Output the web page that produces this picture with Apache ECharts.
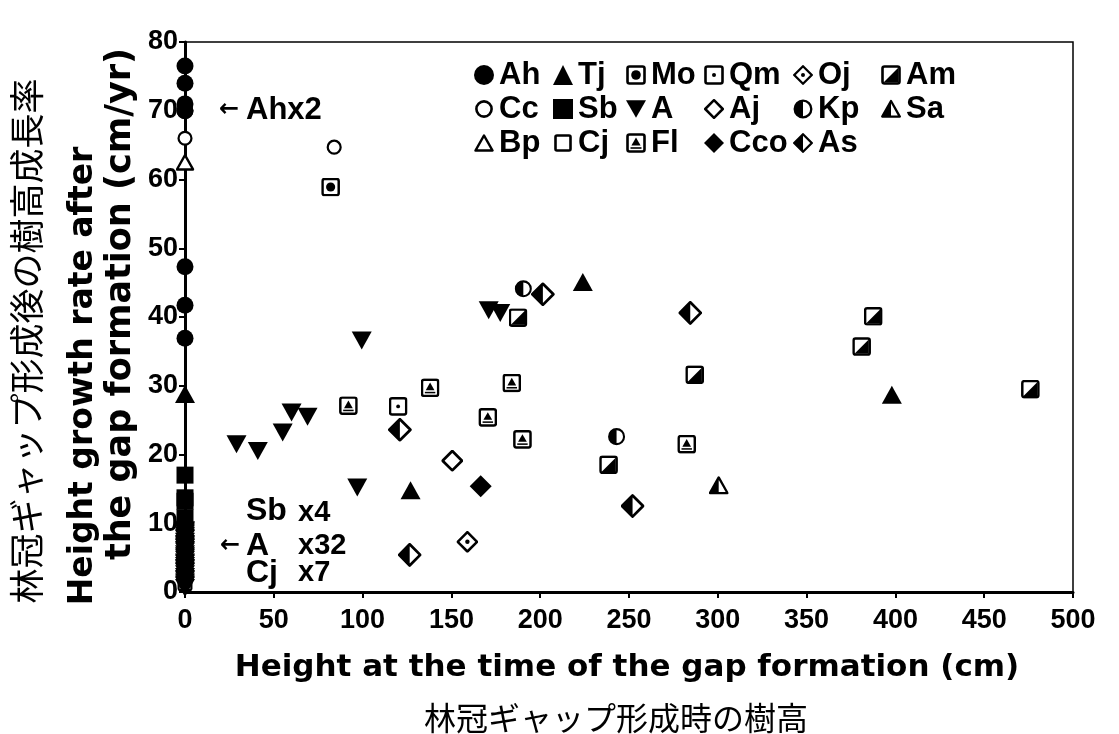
<!DOCTYPE html>
<html>
<head>
<meta charset="utf-8">
<script src="https://cdn.jsdelivr.net/npm/echarts@6/dist/echarts.min.js"></script>
<style>
html,body{margin:0;padding:0;background:#fff;}
#main{width:1119px;height:734px;}
</style>
</head>
<body>
<div id="main"></div>
<script>
// ---- tick values ----
const xTicks = [0, 50, 100, 150, 200, 250, 300, 350, 400, 450, 500];
const yTicks = [0, 10, 20, 30, 40, 50, 60, 70, 80];

// ---- data: [height at gap formation (cm), growth rate (cm/yr)] ----
const Ah  = [[0,76.5],[0,74.0],[0,71.0],[0,70.0],[0,70.0],[0,47.3],[0,41.7],[0,36.9]];
const Cc  = [[0,66.0],[84,64.7]];
const Bp  = [[0,62.5]];
const Tj  = [[0,28.8],[127,14.8],[224,45.1],[398,28.7]];
const Sb  = [[0,17.0],[0,13.7],[0,13.2],[0,10.8]];
const Cj  = [[0,1.2],[0,2.4],[0,3.6],[0,4.4],[0,5.7],[0,6.9],[0,8.1]];
const Mo  = [[82,58.9]];
const A   = [[29,21.5],[41,20.5],[55,23.2],[60,26.1],[69,25.5],[97,15.2],[99.5,36.6],[171,41.0],[177.5,40.6],
             [0,0.6],[0,0.9],[0,1.1],[0,1.4],[0,1.7],[0,1.9],[0,2.2],[0,2.6],[0,2.9],[0,3.1],[0,3.4],[0,3.8],
             [0,4.1],[0,4.3],[0,4.7],[0,5.0],[0,5.2],[0,5.5],[0,5.9],[0,6.1],[0,6.4],[0,6.8],[0,7.0],[0,7.3],
             [0,7.7],[0,7.9],[0,8.2],[0,8.5],[0,8.8],[0,9.0],[0,3.5],[0,6.6]];
const Fl  = [[92,27.1],[138,29.7],[170.5,25.4],[184,30.4],[190,22.2],[282.5,21.5]];
const Qm  = [[120,27.0]];
const Aj  = [[150.5,19.1]];
const Cco = [[166.5,15.4]];
const Oj  = [[159,7.3]];
const Kp  = [[190.5,44.1],[243,22.6]];
const As  = [[121,23.6],[126.5,5.4],[201.5,43.3],[252,12.5],[284.5,40.6]];
const Am  = [[187.5,39.9],[238.5,18.5],[287,31.6],[381,35.7],[387.5,40.1],[476,29.5]];
const Sa  = [[300.5,15.5]];

// ---- legend columns ----
const legendCols = [
  ['Ah','Cc','Bp'],
  ['Tj','Sb','Cj'],
  ['Mo','A','Fl'],
  ['Qm','Aj','Cco'],
  ['Oj','Kp','As'],
  ['Am','Sa']
];
const legendLeft = [469, 548, 621, 699, 788, 876];

function svgSym(inner){
  const s = '<svg xmlns="http://www.w3.org/2000/svg" width="60" height="60" viewBox="0 0 20 20">' + inner + '</svg>';
  return 'image://data:image/svg+xml;charset=utf-8,' + encodeURIComponent(s);
}
const sqFrame = '<rect x="1.5" y="1.5" width="17" height="17" rx="2" fill="#fff" stroke="#000" stroke-width="2.6"/>';
const dmFrame = '<polygon points="10,1.2 18.8,10 10,18.8 1.2,10" fill="#fff" stroke="#000" stroke-width="2.3" stroke-linejoin="round"/>';
const symbols = {
  Mo: svgSym(sqFrame + '<circle cx="10" cy="10" r="4.8" fill="#000"/>'),
  Qm: svgSym(sqFrame + '<circle cx="10" cy="10" r="2" fill="#000"/>'),
  Fl: svgSym(sqFrame + '<polygon points="10,4.5 14.6,12.6 5.4,12.6" fill="#000"/><rect x="4.5" y="14.2" width="11" height="1.6" fill="#000"/>'),
  Am: svgSym(sqFrame + '<polygon points="17.5,2.5 17.5,17.5 2.5,17.5" fill="#000"/>'),
  Oj: svgSym(dmFrame + '<circle cx="10" cy="10" r="2" fill="#000"/>'),
  As: svgSym(dmFrame + '<polygon points="10,1.2 10,18.8 1.2,10" fill="#000"/>'),
  Kp: svgSym('<circle cx="10" cy="10" r="8.3" fill="#fff" stroke="#000" stroke-width="2.3"/><path d="M10,1.7 A8.3,8.3 0 0 0 10,18.3 Z" fill="#000"/>'),
  Sa: svgSym('<polygon points="10,2 18.8,17.6 1.2,17.6" fill="#fff" stroke="#000" stroke-width="2.3" stroke-linejoin="round"/><polygon points="10,2 10,17.6 1.2,17.6" fill="#000"/>'),
  Bp: svgSym('<polygon points="10,2.5 18.5,17.5 1.5,17.5" fill="#fff" stroke="#000" stroke-width="2.5" stroke-linejoin="round"/>'),
  Cc: svgSym('<circle cx="10" cy="10" r="7.6" fill="#fff" stroke="#000" stroke-width="2.6"/>'),
  Cj: svgSym('<rect x="2.5" y="2.5" width="15" height="15" rx="1.5" fill="#fff" stroke="#000" stroke-width="2.6"/>'),
  Aj: svgSym('<polygon points="10,1.2 18.8,10 10,18.8 1.2,10" fill="#fff" stroke="#000" stroke-width="2.5" stroke-linejoin="round"/>'),
  Ah: 'circle',
  Tj: 'triangle',
  Sb: 'rect',
  A: 'path://M0,0 L22,0 L11,19 Z',
  Cco: 'diamond'
};
const sizes = {Ah:17, Cc:17, Bp:19, Tj:[20,18], Sb:17, Cj:17, Mo:19, A:[20,18], Fl:19, Qm:19,
               Aj:22, Cco:22, Oj:22, Kp:18, As:24, Am:19, Sa:20};
const dataMap = {Ah, Cc, Bp, Tj, Sb, Cj, Mo, A, Fl, Qm, Aj, Cco, Oj, Kp, As, Am, Sa};
const order = ['Cj','A','Sb','Ah','Cc','Bp','Tj','Mo','Fl','Qm','Aj','Cco','Oj','Kp','As','Am','Sa'];

const series = order.map(name => ({
  name: name,
  type: 'scatter',
  data: dataMap[name],
  symbol: symbols[name],
  symbolSize: sizes[name],
  itemStyle: {color: '#000', opacity: 1},
  emphasis: {disabled: true}
}));

const FONT = '"Liberation Sans", Arial, sans-serif';
const legends = legendCols.map((col, i) => ({
  data: col,
  orient: 'vertical',
  left: legendLeft[i],
  top: 53,
  itemWidth: 20,
  itemHeight: 20,
  itemGap: 0,
  selectedMode: false,
  textStyle: {fontFamily: FONT, fontWeight: 'bold', fontSize: 31, color: '#000', lineHeight: 34}
}));

const chart = echarts.init(document.getElementById('main'), null, {renderer: 'canvas'});
chart.setOption({
  backgroundColor: '#fff',
  animation: false,
  grid: {left: 185, right: 46, top: 42, bottom: 142, show: true, borderColor: '#000', borderWidth: 1.5, backgroundColor: 'transparent'},
  legend: legends,
  xAxis: {
    type: 'value', min: xTicks[0], max: xTicks[xTicks.length-1], interval: xTicks[1]-xTicks[0],
    splitLine: {show: false},
    axisLine: {show: true, onZero: false, lineStyle: {color: '#000', width: 3}},
    axisTick: {show: true, inside: false, length: 6, lineStyle: {color: '#000', width: 2}},
    axisLabel: {color: '#000', fontFamily: FONT, fontWeight: 'bold', fontSize: 27, margin: 15}
  },
  yAxis: {
    type: 'value', min: yTicks[0], max: yTicks[yTicks.length-1], interval: yTicks[1]-yTicks[0],
    splitLine: {show: false},
    axisLine: {show: true, onZero: false, lineStyle: {color: '#000', width: 3}},
    axisTick: {show: true, inside: false, length: 6, lineStyle: {color: '#000', width: 2}},
    axisLabel: {color: '#000', fontFamily: FONT, fontWeight: 'bold', fontSize: 27, margin: 7}
  },
  graphic: [
    {type: 'text', x: 627, y: 668, style: {text: 'Height at the time of the gap formation (cm)', font: 'bold 31px "DejaVu Sans", sans-serif', fill: '#000', align: 'center', verticalAlign: 'middle'}, z: 10},
    {type: 'text', x: 616, y: 718, style: {text: '林冠ギャップ形成時の樹高', font: '32px "Noto Sans CJK JP", sans-serif', fill: '#000', align: 'center', verticalAlign: 'middle'}, z: 10},
    {type: 'text', x: 83, y: 376, rotation: Math.PI/2, style: {text: 'Height growth rate after', font: 'bold 33px "DejaVu Sans", sans-serif', fill: '#000', align: 'center', verticalAlign: 'middle'}, z: 10},
    {type: 'text', x: 121, y: 304, rotation: Math.PI/2, style: {text: 'the gap formation (cm/yr)', font: 'bold 35px "DejaVu Sans", sans-serif', fill: '#000', align: 'center', verticalAlign: 'middle'}, z: 10},
    {type: 'text', x: 27, y: 341, rotation: Math.PI/2, style: {text: '林冠ギャップ形成後の樹高成長率', font: '35px "Noto Sans CJK JP", sans-serif', fill: '#000', align: 'center', verticalAlign: 'middle'}, z: 10},
    {type: 'text', x: 219, y: 110, style: {text: '←', font: 'bold 24px "DejaVu Sans", sans-serif', fill: '#000', verticalAlign: 'middle'}, z: 10},
    {type: 'text', x: 246, y: 110, style: {text: 'Ahx2', font: 'bold 31px "Liberation Sans", sans-serif', fill: '#000', verticalAlign: 'middle'}, z: 10},
    {type: 'text', x: 246, y: 511, style: {text: 'Sb', font: 'bold 32px "Liberation Sans", sans-serif', fill: '#000', verticalAlign: 'middle'}, z: 10},
    {type: 'text', x: 298, y: 513, style: {text: 'x4', font: 'bold 29px "Liberation Sans", sans-serif', fill: '#000', verticalAlign: 'middle'}, z: 10},
    {type: 'text', x: 220, y: 546, style: {text: '←', font: 'bold 24px "DejaVu Sans", sans-serif', fill: '#000', verticalAlign: 'middle'}, z: 10},
    {type: 'text', x: 246, y: 546, style: {text: 'A', font: 'bold 32px "Liberation Sans", sans-serif', fill: '#000', verticalAlign: 'middle'}, z: 10},
    {type: 'text', x: 298, y: 546, style: {text: 'x32', font: 'bold 29px "Liberation Sans", sans-serif', fill: '#000', verticalAlign: 'middle'}, z: 10},
    {type: 'text', x: 246, y: 573, style: {text: 'Cj', font: 'bold 32px "Liberation Sans", sans-serif', fill: '#000', verticalAlign: 'middle'}, z: 10},
    {type: 'text', x: 298, y: 573, style: {text: 'x7', font: 'bold 29px "Liberation Sans", sans-serif', fill: '#000', verticalAlign: 'middle'}, z: 10}
  ],
  series: series
});
</script>
</body>
</html>
